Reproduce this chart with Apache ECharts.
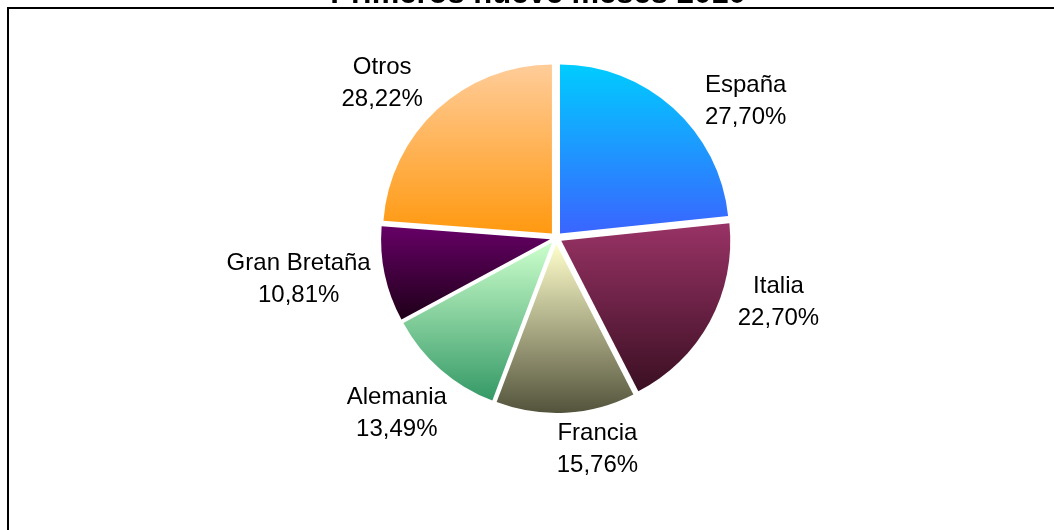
<!DOCTYPE html>
<html>
<head>
<meta charset="utf-8">
<script src="https://cdn.jsdelivr.net/npm/echarts@6/dist/echarts.min.js"></script>
<style>
html,body{margin:0;padding:0;background:#fff;}
#chart{width:1054px;height:530px;}
</style>
</head>
<body>
<div id="chart"></div>
<script>
// ---- data ----
const categories = ['España', 'Italia', 'Francia', 'Alemania', 'Gran Bretaña', 'Otros'];
const values = [27.70, 22.70, 15.76, 13.49, 10.81, 28.22];
const titleText = 'Primeros nueve meses 2010';

// ---- styles ----
const gradTop = ['#00CCFF', '#993366', '#FFFFCC', '#CCFFCC', '#660066', '#FFCC99'];
const gradBottom = ['#3A64FF', '#3A0F22', '#53533C', '#349966', '#1E0018', '#FF9910'];
// manual label placement tweak (degrees), like hand-placed Excel labels
const labelAngleNudge = [-11.2, 16.2, -3, 5.2, -7.0, 2.9];

const CX = 556, CY = 238, R = 169, LABEL_R = 186;

const total = values.reduce((a, b) => a + b, 0);
const midAngles = [];
let acc = 90;
values.forEach(v => {
  const span = v / total * 360;
  midAngles.push(acc - span / 2);
  acc -= span;
});

const chart = echarts.init(document.getElementById('chart'), null, {renderer: 'canvas'});

const sliceItems = categories.map((name, i) => ({
  name: name,
  value: values[i],
  selected: true,
  itemStyle: {
    color: {
      type: 'linear', x: 0, y: 0, x2: 0, y2: 1,
      colorStops: [{offset: 0, color: gradTop[i]}, {offset: 1, color: gradBottom[i]}]
    }
  }
}));
const labelItems = categories.map((name, i) => ({name: name, value: values[i]}));

chart.setOption({
  animation: false,
  backgroundColor: '#ffffff',
  graphic: [
    {
      type: 'rect',
      shape: {x: 8, y: 8, width: 1100, height: 600},
      style: {fill: 'none', stroke: '#000', lineWidth: 2},
      silent: true
    },
    {
      type: 'text',
      style: {
        text: titleText, x: 538, y: -6, align: 'center', verticalAlign: 'middle',
        font: 'bold 31px "Liberation Sans", Arial, sans-serif', fill: '#000'
      },
      silent: true
    }
  ],
  series: [
    {
      type: 'pie',
      center: [CX, CY],
      radius: R,
      startAngle: 90,
      clockwise: true,
      selectedMode: 'multiple',
      selectedOffset: 6,
      avoidLabelOverlap: false,
      itemStyle: {borderWidth: 0},
      select: {itemStyle: {borderWidth: 0}},
      emphasis: {disabled: true},
      label: {show: false},
      labelLine: {show: false},
      data: sliceItems
    },
    {
      type: 'pie',
      center: [CX, CY],
      radius: R,
      startAngle: 90,
      clockwise: true,
      silent: true,
      z: 3,
      selectedMode: false,
      avoidLabelOverlap: false,
      itemStyle: {color: 'rgba(0,0,0,0)', borderWidth: 0},
      emphasis: {disabled: true},
      label: {
        show: true,
        position: 'outside',
        color: '#000',
        fontFamily: '"Liberation Sans", Arial, sans-serif',
        fontSize: 24,
        lineHeight: 32,
        align: 'center',
        formatter: p => p.name + '\n' + p.value.toFixed(2).replace('.', ',') + '%'
      },
      labelLine: {show: false},
      labelLayout: function (p) {
        const i = p.dataIndex;
        const a = (midAngles[i] + labelAngleNudge[i]) * Math.PI / 180;
        const c = Math.cos(a), s = -Math.sin(a);
        const px = CX + LABEL_R * c, py = CY + LABEL_R * s;
        const w = p.labelRect.width, h = p.labelRect.height;
        return {
          x: px + Math.sign(c) * w / 2,
          y: py + Math.sign(s) * h * 0.39,
          align: 'center',
          verticalAlign: 'middle'
        };
      },
      data: labelItems
    }
  ]
});
</script>
</body>
</html>
